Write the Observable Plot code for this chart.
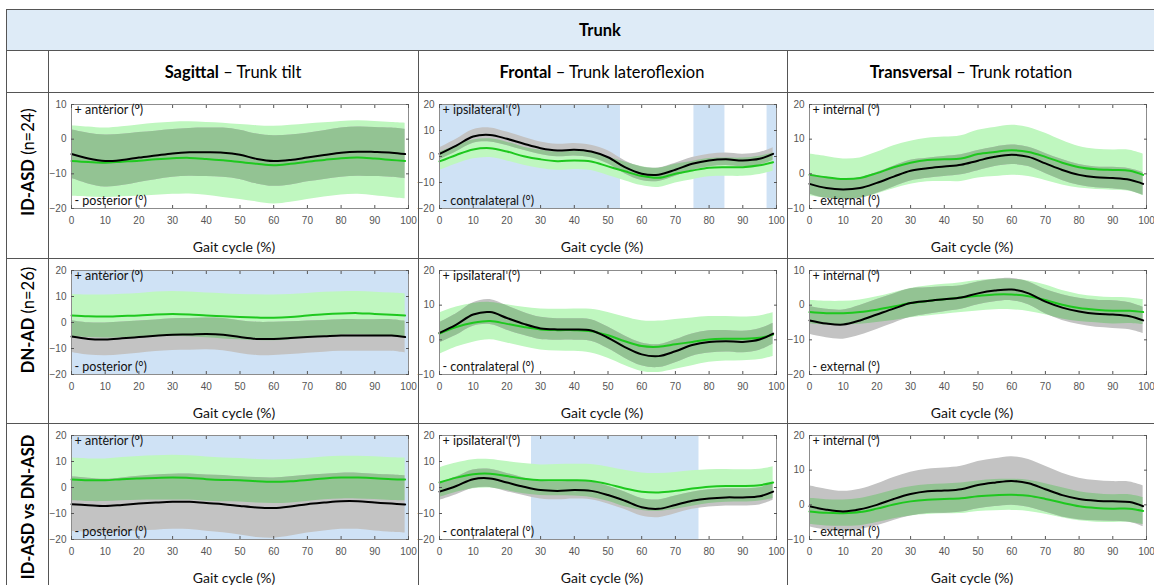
<!DOCTYPE html>
<html>
<head>
<meta charset="utf-8">
<script src="https://cdn.jsdelivr.net/npm/d3@7"></script>
<script src="https://cdn.jsdelivr.net/npm/@observablehq/plot@0.6"></script>
<style>
  body { margin: 0; background: #fff; font-family: Lato, "Open Sans", sans-serif; color: #000; }
  #page { position: relative; width: 1154px; height: 585px; overflow: hidden; background: #fff; }
  .rule { position: absolute; background: #555; }
  .cell-text { position: absolute; white-space: nowrap; transform: translate(-50%, -50%); font-size: 16.5px; }
  .row-label { position: absolute; white-space: nowrap; font-size: 16.5px; transform: translate(-50%, -50%) rotate(-90deg); }
  .panel { position: absolute; }
  b { font-weight: 700; }
</style>
</head>
<body>
<div id="page"></div>
<script>
// Gait cycle sample points (% of cycle)
const gait = [0, 5, 10, 15, 20, 25, 30, 35, 40, 45, 50, 55, 60, 65, 70, 75, 80, 85, 90, 95, 99];

// Row / column headings
const tableTitle = "Trunk";
const planes = ["Sagittal", "Frontal", "Transversal"];
const planeAngles = ["Trunk tilt", "Trunk lateroflexion", "Trunk rotation"];
const rowGroups = [["ID-ASD", " (n=24)"], ["DN-AD", " (n=26)"], ["ID-ASD vs DN-ASD", ""]];
const plusLabels = ["+ anterior (°)", "+ ipsilateral (°)", "+ internal (°)"];
const minusLabels = ["- posterior (°)", "- contralateral (°)", "- external (°)"];
const xLabel = "Gait cycle (%)";

// Row 1 — ID-ASD (n=24): black mean ± SD, green mean ± SD
const r1SagBlack   = [-4.3,-5.6,-6.3,-6.0,-5.3,-4.7,-4.1,-3.8,-3.8,-3.9,-4.5,-5.7,-6.3,-6.0,-5.3,-4.6,-3.9,-3.6,-3.7,-3.9,-4.3];
const r1SagBlackSd = [7.0,7.3,7.5,7.4,7.2,7.0,6.9,6.9,7.0,7.1,7.1,7.2,7.3,7.2,7.0,7.0,7.1,7.1,7.1,7.1,7.1];
const r1SagGreen   = [-6.3,-6.6,-6.8,-6.5,-6.2,-5.8,-5.5,-5.4,-5.7,-6.1,-6.6,-7.1,-7.5,-7.1,-6.5,-6.0,-5.5,-5.3,-5.6,-6.0,-6.3];
const r1SagGreenSd = [10.2,10.1,10.0,10.1,10.3,10.4,10.4,10.4,10.5,10.7,10.8,11.0,11.2,11.1,10.9,10.7,10.6,10.6,10.7,10.8,10.9];

const r1FroBlack   = [1.0,4.2,7.7,8.3,6.8,4.9,3.2,2.3,2.6,1.9,-0.3,-4.1,-6.6,-7.0,-5.1,-2.8,-1.5,-1.1,-1.5,-0.9,1.0];
const r1FroBlackSd = [2.3,2.4,2.6,2.7,2.6,2.5,2.4,2.4,2.4,2.4,2.5,2.5,2.6,2.6,2.5,2.4,2.4,2.4,2.4,2.4,2.4];
const r1FroGreen   = [-1.9,0.6,2.7,3.2,1.9,0.1,-1.1,-1.8,-1.5,-1.9,-3.8,-5.7,-7.5,-8.2,-6.6,-5.4,-4.3,-4.1,-4.1,-3.4,-2.2];
const r1FroGreenSd = [3.5,3.5,3.6,3.6,3.6,3.5,3.5,3.5,3.5,3.5,3.5,3.6,3.7,3.7,3.6,3.5,3.5,3.5,3.5,3.5,3.5];

const r1TraBlack   = [-2.9,-4.1,-4.5,-4.1,-2.6,-0.8,0.9,1.6,2.1,2.6,3.8,4.9,5.5,4.9,3.0,1.1,-0.3,-1.0,-1.2,-1.7,-2.9];
const r1TraBlackSd = [2.9,3.0,3.0,3.0,3.0,3.0,3.0,2.9,2.9,2.9,2.9,2.8,2.8,2.8,2.9,3.0,3.0,3.0,3.1,3.2,3.3];
const r1TraGreen   = [-0.3,-1.0,-1.5,-1.2,0.2,1.9,3.2,4.0,4.2,4.4,5.7,6.3,6.8,6.3,4.9,3.2,1.9,1.3,1.1,0.9,-0.3];
const r1TraGreenSd = [6.0,6.0,5.8,5.8,6.0,6.2,6.2,6.3,6.4,6.6,6.9,7.1,7.2,7.1,6.8,6.4,6.0,5.8,5.8,5.9,6.0];

// Row 2 — DN-AD (n=26)
const r2SagBlack   = [-5.4,-6.3,-6.5,-6.1,-5.6,-5.1,-4.7,-4.6,-4.4,-4.7,-5.6,-6.3,-6.3,-6.0,-5.6,-5.3,-5.0,-5.0,-5.0,-5.0,-5.6];
const r2SagBlackSd = [6.1,6.2,6.3,6.3,6.2,6.1,6.1,6.1,6.1,6.2,6.3,6.4,6.4,6.3,6.2,6.1,6.1,6.1,6.1,6.1,6.1];
const r2SagGreen   = [2.7,2.4,2.3,2.5,2.7,3.1,3.3,3.1,2.7,2.4,2.1,1.9,1.8,2.1,2.7,3.2,3.5,3.6,3.3,3.0,2.7];
const r2SagGreenSd = [8.1,8.2,8.3,8.4,8.5,8.6,8.6,8.6,8.6,8.7,8.7,8.8,8.8,8.7,8.5,8.4,8.3,8.3,8.3,8.3,8.3];

const r2FroBlack   = [2.0,4.4,7.3,8.0,6.3,4.6,3.3,3.0,3.0,2.7,0.6,-2.1,-4.2,-4.7,-3.3,-1.5,-0.6,-0.4,-0.6,0.1,1.8];
const r2FroBlackSd = [2.9,3.1,3.4,3.6,3.5,3.3,3.2,3.1,3.1,3.1,3.1,3.2,3.3,3.3,3.3,3.2,3.2,3.1,3.1,3.1,3.0];
const r2FroGreen   = [1.8,3.7,4.9,5.4,4.6,3.7,3.0,2.8,2.8,2.5,1.3,-0.4,-1.8,-2.0,-1.3,-0.6,0.1,0.3,0.3,0.6,1.5];
const r2FroGreenSd = [6.0,5.8,5.6,5.4,5.5,5.7,5.9,6.0,6.1,6.3,6.6,7.0,7.3,7.4,7.2,6.9,6.6,6.4,6.3,6.3,6.3];

const r2TraBlack   = [-4.4,-5.3,-5.6,-4.4,-2.7,-1.0,0.6,1.2,1.7,2.2,3.4,4.2,4.5,3.4,1.0,-0.7,-1.8,-2.5,-2.7,-3.2,-4.4];
const r2TraBlackSd = [4.0,4.1,4.2,4.3,4.3,4.2,4.1,3.8,3.6,3.4,3.3,3.2,3.2,3.3,3.5,3.7,3.8,3.9,4.0,3.9,3.8];
const r2TraGreen   = [-2.0,-2.3,-2.3,-2.0,-1.3,-0.4,0.6,1.2,1.7,2.2,2.7,3.1,3.1,2.6,1.5,0.1,-0.8,-1.3,-1.6,-1.6,-2.0];
const r2TraGreenSd = [3.4,3.4,3.4,3.5,3.7,4.0,4.2,4.3,4.3,4.3,4.4,4.4,4.4,4.4,4.3,4.1,3.9,3.8,3.8,3.7,3.6];

// Row 3 — ID-ASD vs DN-ASD
const r3SagBlack   = [-6.4,-6.8,-7.1,-6.7,-6.2,-5.8,-5.5,-5.5,-6.0,-6.4,-7.1,-7.7,-7.9,-7.3,-6.4,-5.8,-5.3,-5.3,-5.8,-6.2,-6.5];
const r3SagBlackSd = [10.5,10.4,10.3,10.4,10.5,10.6,10.6,10.7,10.8,11.0,11.2,11.5,11.6,11.4,11.1,10.9,10.8,10.8,10.9,11.0,11.0];
const r3SagGreen   = [3.1,2.8,2.8,3.2,3.5,3.7,3.8,3.7,3.2,2.9,2.8,2.4,2.2,2.4,2.9,3.5,3.8,3.8,3.6,3.2,3.1];
const r3SagGreenSd = [8.2,8.2,8.2,8.3,8.4,8.5,8.6,8.5,8.5,8.4,8.4,8.4,8.4,8.4,8.3,8.2,8.2,8.2,8.2,8.2,8.2];

const r3FroBlack   = [-1.6,0.6,3.2,3.5,1.9,0.3,-1.0,-1.3,-1.0,-1.3,-2.9,-5.1,-7.6,-8.2,-6.7,-5.1,-4.2,-3.8,-3.8,-3.4,-1.6];
const r3FroBlackSd = [3.4,3.4,3.5,3.5,3.5,3.4,3.4,3.4,3.4,3.4,3.4,3.4,3.4,3.4,3.4,3.3,3.3,3.3,3.3,3.3,3.3];
const r3FroGreen   = [1.9,3.8,5.1,5.3,4.4,3.4,2.8,2.8,2.8,2.5,1.3,-0.4,-1.6,-1.9,-1.3,-0.4,0.3,0.6,0.6,0.9,1.9];
const r3FroGreenSd = [5.7,5.6,5.6,5.5,5.6,5.8,5.9,6.0,6.1,6.3,6.6,7.0,7.2,7.3,7.1,6.8,6.5,6.3,6.2,6.1,6.1];

const r3TraBlack   = [-0.4,-1.4,-1.9,-1.3,0.0,1.7,3.1,3.9,4.1,4.5,5.7,6.4,6.9,6.2,4.5,2.8,1.7,1.2,1.0,0.8,-0.4];
const r3TraBlackSd = [5.9,5.9,5.8,5.8,6.0,6.2,6.3,6.4,6.5,6.6,6.8,6.9,7.0,6.9,6.6,6.3,6.0,5.8,5.7,5.8,5.9];
const r3TraGreen   = [-1.9,-2.3,-2.4,-2.1,-1.1,0.1,1.0,1.5,1.7,1.9,2.5,2.8,2.9,2.6,1.7,0.6,-0.4,-0.9,-1.1,-1.1,-1.8];
const r3TraGreenSd = [3.8,3.8,3.8,3.9,4.0,4.1,4.2,4.3,4.3,4.4,4.4,4.5,4.5,4.5,4.4,4.3,4.2,4.1,4.0,4.0,3.9];

// Y-axis ranges per panel (row-major)
const yRanges = [
  [-20, 10], [-20, 20], [-10, 20],
  [-20, 20], [-10, 20], [-20, 10],
  [-20, 20], [-20, 20], [-10, 20]
];

// Shaded gait-cycle intervals (start %, end %) per panel
const shaded = [
  [], [[0, 53.7], [75.5, 84.7], [97.2, 100]], [],
  [[0, 100]], [], [],
  [[0, 100]], [[27.3, 77.0]], []
];

const series = [
  [r1SagBlack, r1SagBlackSd, r1SagGreen, r1SagGreenSd],
  [r1FroBlack, r1FroBlackSd, r1FroGreen, r1FroGreenSd],
  [r1TraBlack, r1TraBlackSd, r1TraGreen, r1TraGreenSd],
  [r2SagBlack, r2SagBlackSd, r2SagGreen, r2SagGreenSd],
  [r2FroBlack, r2FroBlackSd, r2FroGreen, r2FroGreenSd],
  [r2TraBlack, r2TraBlackSd, r2TraGreen, r2TraGreenSd],
  [r3SagBlack, r3SagBlackSd, r3SagGreen, r3SagGreenSd],
  [r3FroBlack, r3FroBlackSd, r3FroGreen, r3FroGreenSd],
  [r3TraBlack, r3TraBlackSd, r3TraGreen, r3TraGreenSd]
];

// Colours
const shadeBlue = "#cfe2f5";
const bandGreen = "#bff7bf";
const bandGray = "#c3c3c3";
const bandBoth = "#93c393";
const lineGreen = "#1ec81e";
const headerFill = "#deebf7";

// Layout of the table
const colLines = [6, 48, 418, 787];
const rowLines = [9, 50, 92, 258, 423];
const frameLeft = [71, 439, 809];
const frameTop = [104, 270, 435];
const frameW = 337, frameH = 104;
const marginL = 30, marginR = 10, marginT = 10, marginB = 48;

const page = document.getElementById("page");
function el(tag, cls, style, html) {
  const e = document.createElement(tag);
  if (cls) e.className = cls;
  Object.assign(e.style, style);
  if (html != null) e.innerHTML = html;
  page.appendChild(e);
  return e;
}

// Header band and rules
el("div", null, {position: "absolute", left: "6px", top: "9px", width: "1148px", height: "41px", background: headerFill});
rowLines.forEach(y => el("div", "rule", {left: "6px", top: y + "px", width: "1148px", height: "1px"}));
el("div", "rule", {left: "6px", top: "9px", width: "1px", height: "576px"});
colLines.slice(1).forEach(x => el("div", "rule", {left: x + "px", top: "50px", width: "1px", height: "535px"}));

el("div", "cell-text", {left: "600px", top: "30px", fontWeight: 700}, tableTitle);
const colCenters = [233, 602, 971];
planes.forEach((p, i) => el("div", "cell-text", {left: colCenters[i] + "px", top: "72px"}, `<b>${p}</b> – ${planeAngles[i]}`));
const rowCenters = [162, 320, 507];
rowGroups.forEach((g, i) => el("div", "row-label", {left: "28px", top: rowCenters[i] + "px"}, `<b>${g[0]}</b>${g[1]}`));

// One panel per (row, column)
series.forEach((s, k) => {
  const row = Math.floor(k / 3), col = k % 3;
  const [meanBlack, sdBlack, meanGreen, sdGreen] = s;
  const data = gait.map((x, i) => ({x, a: meanBlack[i], sa: sdBlack[i], b: meanGreen[i], sb: sdGreen[i]}));
  const [yLo, yHi] = yRanges[k];
  const yTicks = d3.range(yLo, yHi + 1, 10);
  const xTicks = d3.range(0, 101, 10);
  const curve = "catmull-rom";
  const svg = Plot.plot({
    width: frameW + marginL + marginR,
    height: frameH + marginT + marginB,
    marginLeft: marginL, marginRight: marginR, marginTop: marginT, marginBottom: marginB,
    x: {domain: [0, 100]},
    y: {domain: [yLo, yHi]},
    style: {fontFamily: "'Liberation Sans', Arial, sans-serif", fontSize: "10px", color: "#555", background: "transparent", overflow: "visible"},
    marks: [
      Plot.rect(shaded[k], {x1: d => d[0], x2: d => d[1], fill: shadeBlue}),
      Plot.areaY(data, {x: "x", y1: d => d.b - d.sb, y2: d => d.b + d.sb, fill: bandGreen, curve}),
      Plot.areaY(data, {x: "x", y1: d => d.a - d.sa, y2: d => d.a + d.sa, fill: bandGray, curve}),
      Plot.lineY(data, {x: "x", y: "b", stroke: lineGreen, strokeWidth: 2, curve}),
      Plot.lineY(data, {x: "x", y: "a", stroke: "#000", strokeWidth: 2, curve}),
      Plot.frame({stroke: "#8c8c8c"}),
      Plot.axisX({anchor: "bottom", ticks: xTicks, tickSize: -3, tickPadding: 11, label: null}),
      Plot.axisX({anchor: "top", ticks: xTicks, tickSize: -3, tickFormat: () => "", label: null}),
      Plot.axisY({anchor: "left", ticks: yTicks, tickSize: -3, tickPadding: 8, label: null}),
      Plot.axisY({anchor: "right", ticks: yTicks, tickSize: -3, tickFormat: () => "", label: null}),
      Plot.text([plusLabels[col]], {frameAnchor: "top-left", dx: 3, dy: 1, textAnchor: "start", fontFamily: "Lato, sans-serif", fontSize: 12.5, fill: "#111"}),
      Plot.text([minusLabels[col]], {frameAnchor: "bottom-left", dx: 3, dy: -4, textAnchor: "start", fontFamily: "Lato, sans-serif", fontSize: 12.5, fill: "#111"}),
      Plot.text([xLabel], {frameAnchor: "bottom", dx: -6, dy: 43, fontFamily: "Lato, sans-serif", fontSize: 14, fill: "#111"})
    ]
  });
  // Tint where the two SD bands overlap: gray band clipped to the green band
  const areas = svg.querySelectorAll('g[aria-label="area"]');
  const greenPath = areas[0] && areas[0].querySelector("path");
  const grayPath = areas[1] && areas[1].querySelector("path");
  if (greenPath && grayPath) {
    const id = "overlap-" + k;
    const ns = "http://www.w3.org/2000/svg";
    const defs = document.createElementNS(ns, "defs");
    const clip = document.createElementNS(ns, "clipPath");
    clip.setAttribute("id", id);
    const cp = document.createElementNS(ns, "path");
    cp.setAttribute("d", greenPath.getAttribute("d"));
    clip.appendChild(cp);
    defs.appendChild(clip);
    svg.insertBefore(defs, svg.firstChild);
    const ov = grayPath.cloneNode();
    ov.setAttribute("fill", bandBoth);
    ov.setAttribute("clip-path", `url(#${id})`);
    areas[1].appendChild(ov);
  }
  svg.classList.add("panel");
  svg.style.left = (frameLeft[col] - marginL) + "px";
  svg.style.top = (frameTop[row] - marginT) + "px";
  page.appendChild(svg);
});
</script>
</body>
</html>
